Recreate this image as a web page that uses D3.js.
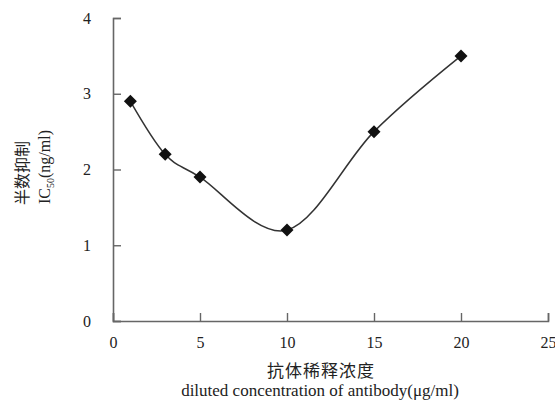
<!DOCTYPE html>
<html>
<head>
<meta charset="utf-8">
<style>
body { margin: 0; background: #fff; }
text { font-family: "Liberation Serif", "DejaVu Serif", serif; fill: #222; }
.cjk { font-family: "Noto Sans CJK SC", sans-serif; }
</style>
</head>
<body>
<svg width="555" height="403"></svg>
<script src="https://d3js.org/d3.v7.min.js"></script>
<script>

var dilution = [1, 3, 5, 10, 15, 20];
var ic50 = [2.9, 2.2, 1.9, 1.2, 2.5, 3.5];
var xTicks = [0, 5, 10, 15, 20, 25];
var yTicks = [0, 1, 2, 3, 4];

var svg = d3.select("svg");

var x = d3.scaleLinear().domain([0, 25]).range([113, 548]);
var y = d3.scaleLinear().domain([0, 4]).range([321, 18]);

var axisColor = "#666";

// y axis, ticks pointing inward
var yAxis = svg.append("g")
    .attr("transform", "translate(" + x(0) + ",0)")
    .call(d3.axisLeft(y).tickValues(yTicks).tickFormat(d3.format("d"))
      .tickSizeInner(-8).tickSizeOuter(-8).tickPadding(22));

// x axis, ticks pointing up
var xAxis = svg.append("g")
    .attr("transform", "translate(0," + y(0) + ")")
    .call(d3.axisBottom(x).tickValues(xTicks).tickFormat(d3.format("d"))
      .tickSizeInner(-8).tickSizeOuter(-8).tickPadding(16));

[yAxis, xAxis].forEach(function(g) {
  g.attr("font-family", null).attr("font-size", null);
  g.select(".domain").attr("stroke", axisColor).attr("stroke-width", 1.6);
  g.selectAll(".tick line").attr("stroke", axisColor).attr("stroke-width", 1.4);
  g.selectAll(".tick text")
      .attr("fill", "#222")
      .attr("font-family", "Liberation Serif")
      .attr("font-size", 16);
});

var pts = dilution.map(function(d, i) { return [d, ic50[i]]; });

var line = d3.line()
    .x(function(d) { return x(d[0]); })
    .y(function(d) { return y(d[1]); })
    .curve(d3.curveCardinal.tension(0));

svg.append("path")
    .datum(pts)
    .attr("d", line)
    .attr("fill", "none")
    .attr("stroke", "#333")
    .attr("stroke-width", 1.5);

svg.append("g")
  .selectAll("path")
  .data(pts)
  .enter().append("path")
    .attr("d", "M0,-6.5L6.5,0L0,6.5L-6.5,0Z")
    .attr("transform", function(d) { return "translate(" + x(d[0]) + "," + y(d[1]) + ")"; })
    .attr("fill", "#111");

// x axis titles
svg.append("text")
    .attr("class", "cjk")
    .attr("x", 321).attr("y", 377)
    .attr("text-anchor", "middle")
    .style("font-size", "17px")
    .attr("letter-spacing", 1)
    .text("抗体稀释浓度");

svg.append("text")
    .attr("x", 320).attr("y", 396)
    .attr("text-anchor", "middle")
    .style("font-size", "17px")
    .text("diluted concentration of antibody(μg/ml)");

// y axis titles (rotated)
svg.append("text")
    .attr("class", "cjk")
    .attr("transform", "translate(28,173) rotate(-90)")
    .attr("text-anchor", "middle")
    .style("font-size", "16px")
    .text("半数抑制");

var yt = svg.append("text")
    .attr("transform", "translate(50,167) rotate(-90)")
    .attr("text-anchor", "middle")
    .style("font-size", "16px");
yt.append("tspan").text("IC");
yt.append("tspan").attr("dy", 4).style("font-size", "10px").text("50");
yt.append("tspan").attr("dy", -4).text("(ng/ml)");

</script>
</body>
</html>
